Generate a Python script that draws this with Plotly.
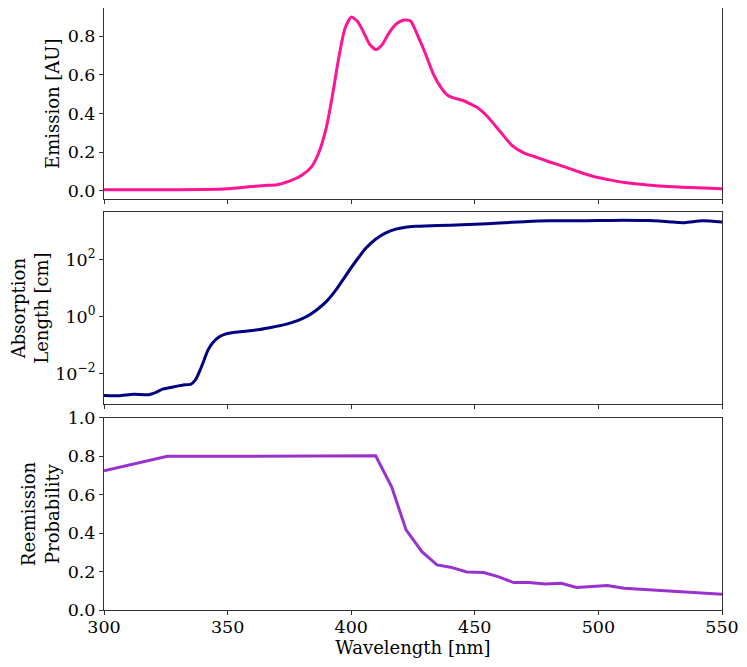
import plotly.graph_objects as go
from plotly.subplots import make_subplots

# emission spectrum
em_wl = [300, 320, 340, 350, 355, 360, 365, 370, 375, 380, 384, 387, 390, 392.5, 395,
         397.5, 400, 402.5, 405, 407.5, 410, 412.5, 415, 418, 421, 424, 427, 430, 433,
         436, 439, 442, 445, 448, 451, 455, 460, 465, 470, 474, 480, 486, 492, 498,
         505, 512, 520, 528, 540, 550]
em_val = [0.005, 0.005, 0.006, 0.010, 0.016, 0.022, 0.027, 0.031, 0.050, 0.080, 0.125,
          0.20, 0.33, 0.50, 0.69, 0.84, 0.898, 0.876, 0.82, 0.757, 0.73, 0.755, 0.81,
          0.86, 0.882, 0.878, 0.80, 0.71, 0.61, 0.54, 0.494, 0.478, 0.468, 0.45, 0.43,
          0.385, 0.31, 0.235, 0.195, 0.177, 0.15, 0.125, 0.098, 0.074, 0.055, 0.04,
          0.03, 0.022, 0.015, 0.01]

# absorption length [cm]
abs_wl = [300, 306, 312, 318, 321, 324, 328, 332, 335, 337, 339, 340.5, 342, 344, 346.5,
          349, 353, 358, 363, 368, 373, 378, 382, 386, 390, 394, 398, 402, 406, 410,
          414, 418, 422, 426, 430, 440, 450, 460, 470, 480, 490, 500, 510, 520, 530,
          535, 542, 550]
abs_val = [0.0017, 0.00168, 0.0019, 0.00182, 0.0022, 0.0029, 0.0034, 0.0040, 0.0042,
           0.0060, 0.014, 0.030, 0.065, 0.12, 0.19, 0.24, 0.28, 0.31, 0.35, 0.42, 0.52,
           0.70, 1.0, 1.7, 3.4, 9.0, 29, 90, 250, 520, 850, 1150, 1350, 1450, 1500,
           1580, 1700, 1900, 2100, 2250, 2250, 2300, 2350, 2300, 2050, 1950, 2250, 2050]

# reemission probability
re_wl = [300, 325.6, 409.9, 416.4, 422.2, 428.6, 434.7, 440.1, 446.8, 453.6, 459.4,
         465.7, 471.9, 478.6, 485, 491.1, 503.6, 510.4, 550]
re_val = [0.725, 0.80, 0.803, 0.64, 0.417, 0.304, 0.235, 0.223, 0.198, 0.195, 0.174,
          0.143, 0.143, 0.136, 0.139, 0.117, 0.127, 0.113, 0.082]

font = "DejaVu Serif"
tick_font = dict(family=font, size=17.5, color="black")
title_font = dict(family=font, size=18, color="black")

fig = make_subplots(rows=3, cols=1, shared_xaxes=True)
fig.add_trace(go.Scatter(x=em_wl, y=em_val, mode="lines",
                         line=dict(color="#ff1493", width=3, shape="spline", smoothing=0.6)),
              row=1, col=1)
fig.add_trace(go.Scatter(x=abs_wl, y=abs_val, mode="lines",
                         line=dict(color="#000080", width=3, shape="spline", smoothing=0.6)),
              row=2, col=1)
fig.add_trace(go.Scatter(x=re_wl, y=re_val, mode="lines",
                         line=dict(color="#9932cc", width=3)),
              row=3, col=1)

axis_style = dict(showline=True, linecolor="#333", linewidth=1, mirror=True,
                  ticks="outside", ticklen=4, tickwidth=1, tickcolor="#333",
                  showgrid=False, zeroline=False, automargin=False,
                  tickfont=tick_font)

for r in (1, 2, 3):
    fig.update_xaxes(axis_style, range=[300, 550], tickvals=[300, 350, 400, 450, 500, 550],
                     ticklabelstandoff=-3, row=r, col=1)
fig.update_xaxes(title=dict(text="Wavelength [nm]", font=title_font, standoff=0),
                 row=3, col=1)

fig.update_yaxes(axis_style, range=[-0.045, 0.945], tickvals=[0, 0.2, 0.4, 0.6, 0.8],
                 tickformat=".1f",
                 title=dict(text="Emission [AU]", font=title_font, standoff=3),
                 domain=[0.682, 1.0], row=1, col=1)
fig.update_yaxes(axis_style, type="log", range=[-3.07, 3.66],
                 tickvals=[0.01, 1, 100],
                 ticktext=["10<sup>\u22122</sup>", "10<sup>0</sup>", "10<sup>2</sup>"],
                 title=dict(text="Absorption<br>Length [cm]", font=title_font, standoff=3),
                 domain=[0.342, 0.661], row=2, col=1)
fig.update_yaxes(axis_style, range=[0, 1.0], tickvals=[0, 0.2, 0.4, 0.6, 0.8, 1.0],
                 tickformat=".1f",
                 title=dict(text="Reemission<br>Probability", font=title_font, standoff=3),
                 domain=[0.0, 0.319], row=3, col=1)

# page body adds 8px around the figure, so the figure is 16px smaller than the window
fig.update_layout(width=731, height=651, showlegend=False,
                  plot_bgcolor="white", paper_bgcolor="white",
                  margin=dict(l=96, r=17, t=0, b=49),
                  font=dict(family=font, color="black"))

fig.write_html("out.html")
